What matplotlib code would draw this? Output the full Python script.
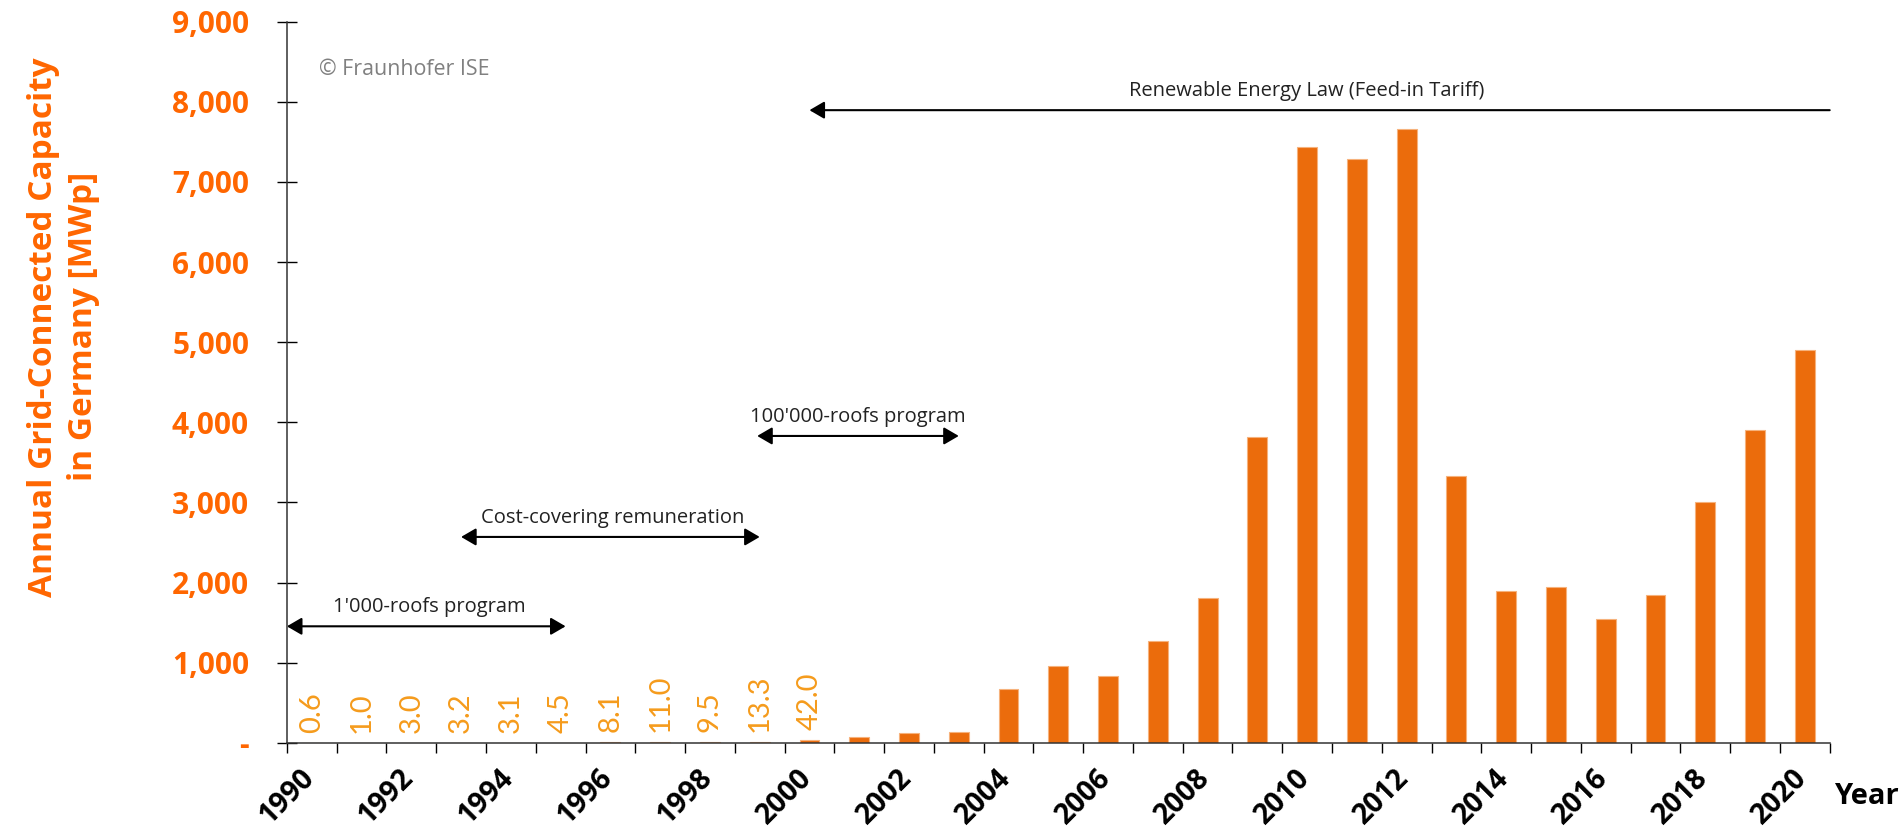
import numpy as np
import matplotlib.pyplot as plt

plt.rcParams['font.family'] = ['Open Sans', 'DejaVu Sans']

# annual grid-connected PV capacity in Germany, MWp
years = np.arange(1990, 2021)
capacity = [0.6, 1.0, 3.0, 3.2, 3.1, 4.5, 8.1, 11.0, 9.5, 13.3, 42.0,
            80, 120, 139, 667, 958, 840, 1275, 1805, 3818,
            7440, 7280, 7663, 3332, 1900, 1940, 1545, 1845, 3000, 3900, 4905]
n_labelled = 11  # the tiny early bars get their value written above

# support programmes shown as arrows
programs = ["1'000-roofs program", "Cost-covering remuneration",
            "100'000-roofs program", "Renewable Energy Law (Feed-in Tariff)"]
prog_start = [1990.0, 1993.5, 1999.45, 2000.5]
prog_end = [1995.6, 1999.5, 2003.5, 2021.0]
prog_level = [1455, 2570, 3830, 7895]
prog_text_x = [1992.87, 1996.55, 2001.47, 2010.5]
prog_both_heads = [True, True, True, False]

bar_color = '#EB6C0C'
tick_orange = '#FF6600'
value_orange = '#F59B1C'

fig = plt.figure(figsize=(19, 8.31), dpi=100)
ax = fig.add_axes([0.151, 0.106, 0.812, 0.868])

ax.bar(years + 0.5, capacity, width=0.4, color=bar_color,
       edgecolor='#F6B27C', linewidth=0.8)

for yr, v in zip(years[:n_labelled], capacity[:n_labelled]):
    ax.annotate(f'{v:.1f}', xy=(yr + 0.5, v), xytext=(0, 10),
                textcoords='offset pixels', rotation=90, ha='center',
                va='bottom', color=value_orange, fontsize=21,
                family=['Lato', 'DejaVu Sans'])

for name, x0, x1, lev, tx, both in zip(programs, prog_start, prog_end,
                                       prog_level, prog_text_x, prog_both_heads):
    style = '<|-|>' if both else '<|-'
    ax.annotate('', xy=(x1, lev), xytext=(x0, lev), annotation_clip=False,
                arrowprops=dict(arrowstyle=style + ',head_length=0.6,head_width=0.35',
                                mutation_scale=15, lw=1.5, color='black',
                                shrinkA=0, shrinkB=0))
    ax.text(tx, lev + 235, name, ha='center', va='center', fontsize=14.5,
            color='#222222')

ax.text(1990.64, 8400, '© Fraunhofer ISE', color='#808080', fontsize=15.4,
        va='center')

# axes
ax.set_xlim(1990, 2021)
ax.set_ylim(0, 9000)
ax.set_xticks(np.arange(1990, 2021, 2))
ax.set_xticks(np.arange(1991, 2022, 2), minor=True)
ax.set_yticks(np.arange(0, 9001, 1000))
ax.set_yticklabels(['-' if v == 0 else f'{v:,}' for v in range(0, 9001, 1000)])
ax.tick_params(axis='x', which='both', direction='out', length=7, width=1)
ax.tick_params(axis='x', labelsize=20.5, pad=8)
ax.tick_params(axis='y', direction='inout', length=14.4, width=1,
               labelsize=21.5, labelcolor=tick_orange, pad=20)
for lab in ax.get_xticklabels():
    lab.set_rotation(45)
    lab.set_ha('center')
    lab.set_fontweight('bold')
for lab in ax.get_yticklabels():
    lab.set_fontweight('bold')

ax.spines[['top', 'right']].set_visible(False)
for s in ['left', 'bottom']:
    ax.spines[s].set_linewidth(1.1)
    ax.spines[s].set_color('#333333')

ax.set_ylabel('Annual Grid-Connected Capacity\nin Germany [MWp]',
              color=tick_orange, fontsize=24, fontweight='bold', linespacing=1.3)
ax.yaxis.set_label_coords(-0.121, 0.577)

ax.annotate('Year', xy=(1, 0), xycoords='axes fraction', xytext=(4, -54),
            textcoords='offset pixels', ha='left', va='center',
            fontweight='bold', fontsize=21)

plt.savefig('out.png', dpi=100)
